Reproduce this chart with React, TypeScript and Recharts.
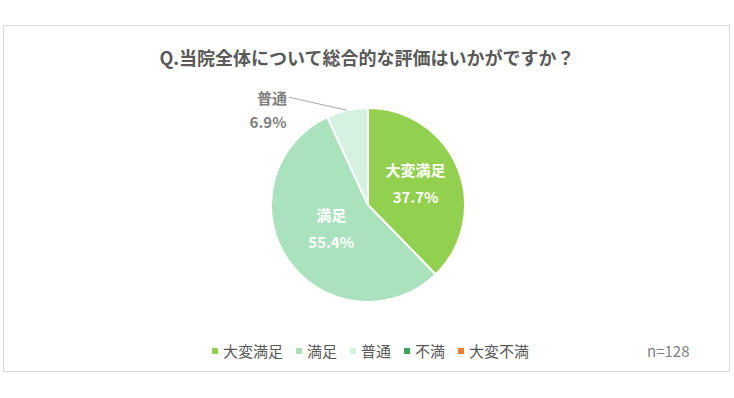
import React from 'react';
import { PieChart, Pie, Cell, Legend } from 'recharts';

const categories = ['大変満足', '満足', '普通', '不満', '大変不満'];
const percents = [37.7, 55.4, 6.9, 0, 0];
const colors = ['#92D050', '#A9E2BC', '#D6F1E0', '#3BA458', '#ED7D31'];
const title = 'Q.当院全体について総合的な評価はいかがですか？';
const sampleNote = 'n=128';

const data = categories.map((name, i) => ({ name, value: percents[i] }));

const FONT = '"Noto Sans CJK JP", "Noto Sans", sans-serif';
const RAD = Math.PI / 180;

function renderLabel(props: any) {
  const { cx, cy, midAngle, outerRadius, index, name, value } = props;
  if (!value) return null;
  const cos = Math.cos(-midAngle * RAD);
  const sin = Math.sin(-midAngle * RAD);
  if (index === 2) {
    // small slice: label outside with a leader line
    const px = cx + outerRadius * cos;
    const py = cy + outerRadius * sin;
    const ex = px - 58;
    const ey = py - 13;
    return (
      <g>
        <polyline points={`${px},${py} ${ex},${ey}`} stroke="#A6A6A6" strokeWidth={1} fill="none" />
        <text x={ex - 2} y={ey} textAnchor="end" dominantBaseline="central" fill="#7F7F7F" fontSize={15} fontWeight="bold" fontFamily={FONT}>
          {name}
        </text>
        <text x={ex - 21} y={ey + 24} textAnchor="middle" dominantBaseline="central" fill="#7F7F7F" fontSize={15} fontWeight="bold" fontFamily={FONT}>
          {value.toFixed(1)}%
        </text>
      </g>
    );
  }
  const f = index === 0 ? 0.53 : 0.46;
  const x = cx + outerRadius * f * cos;
  const y = cy + outerRadius * f * sin;
  return (
    <g>
      <text x={x} y={y - 16} textAnchor="middle" dominantBaseline="central" fill="#FFFFFF" fontSize={15} fontWeight="bold" fontFamily={FONT}>
        {name}
      </text>
      <text x={x} y={y + 11} textAnchor="middle" dominantBaseline="central" fill="#FFFFFF" fontSize={15} fontWeight="bold" fontFamily={FONT}>
        {value.toFixed(1)}%
      </text>
    </g>
  );
}

function renderLegend() {
  return (
    <div style={{ display: 'flex', alignItems: 'center', fontFamily: FONT, fontSize: 15, color: '#595959' }}>
      {categories.map((c, i) => (
        <div key={c} style={{ display: 'flex', alignItems: 'center', marginRight: 13 }}>
          <span style={{ display: 'inline-block', width: 6, height: 6, background: colors[i], marginRight: 5 }} />
          <span>{c}</span>
        </div>
      ))}
    </div>
  );
}

export default function App() {
  return (
    <div style={{ position: 'absolute', left: 0, top: 0, width: 734, height: 398, background: '#fff' }}>
      <div
        style={{
          position: 'absolute',
          left: 3,
          top: 25,
          width: 727,
          height: 347,
          border: '1px solid #D9D9D9',
          boxSizing: 'border-box'
        }}
      />
      <div
        style={{
          position: 'absolute',
          left: 0,
          top: 45,
          width: 734,
          textAlign: 'center',
          fontFamily: FONT,
          fontSize: 18,
          fontWeight: 'bold',
          color: '#595959',
          lineHeight: '24px'
        }}
      >
        {title}
      </div>
      <div
        style={{
          position: 'absolute',
          left: 647,
          top: 340,
          fontFamily: FONT,
          fontSize: 15,
          color: '#7F7F7F',
          lineHeight: '22px'
        }}
      >
        {sampleNote}
      </div>
      <div style={{ position: 'absolute', left: 0, top: 0 }}>
        <PieChart width={734} height={398}>
          <Pie
            data={data}
            dataKey="value"
            nameKey="name"
            cx={363}
            cy={200}
            outerRadius={97}
            startAngle={90}
            endAngle={-270}
            stroke="#FFFFFF"
            strokeWidth={2}
            label={renderLabel}
            labelLine={false}
            isAnimationActive={false}
          >
            {data.map((d, i) => (
              <Cell key={d.name} fill={colors[i]} />
            ))}
          </Pie>
          <Legend
            content={renderLegend}
            wrapperStyle={{ position: 'absolute', left: 212, top: 340, width: 420, height: 22 }}
          />
        </PieChart>
      </div>
    </div>
  );
}
